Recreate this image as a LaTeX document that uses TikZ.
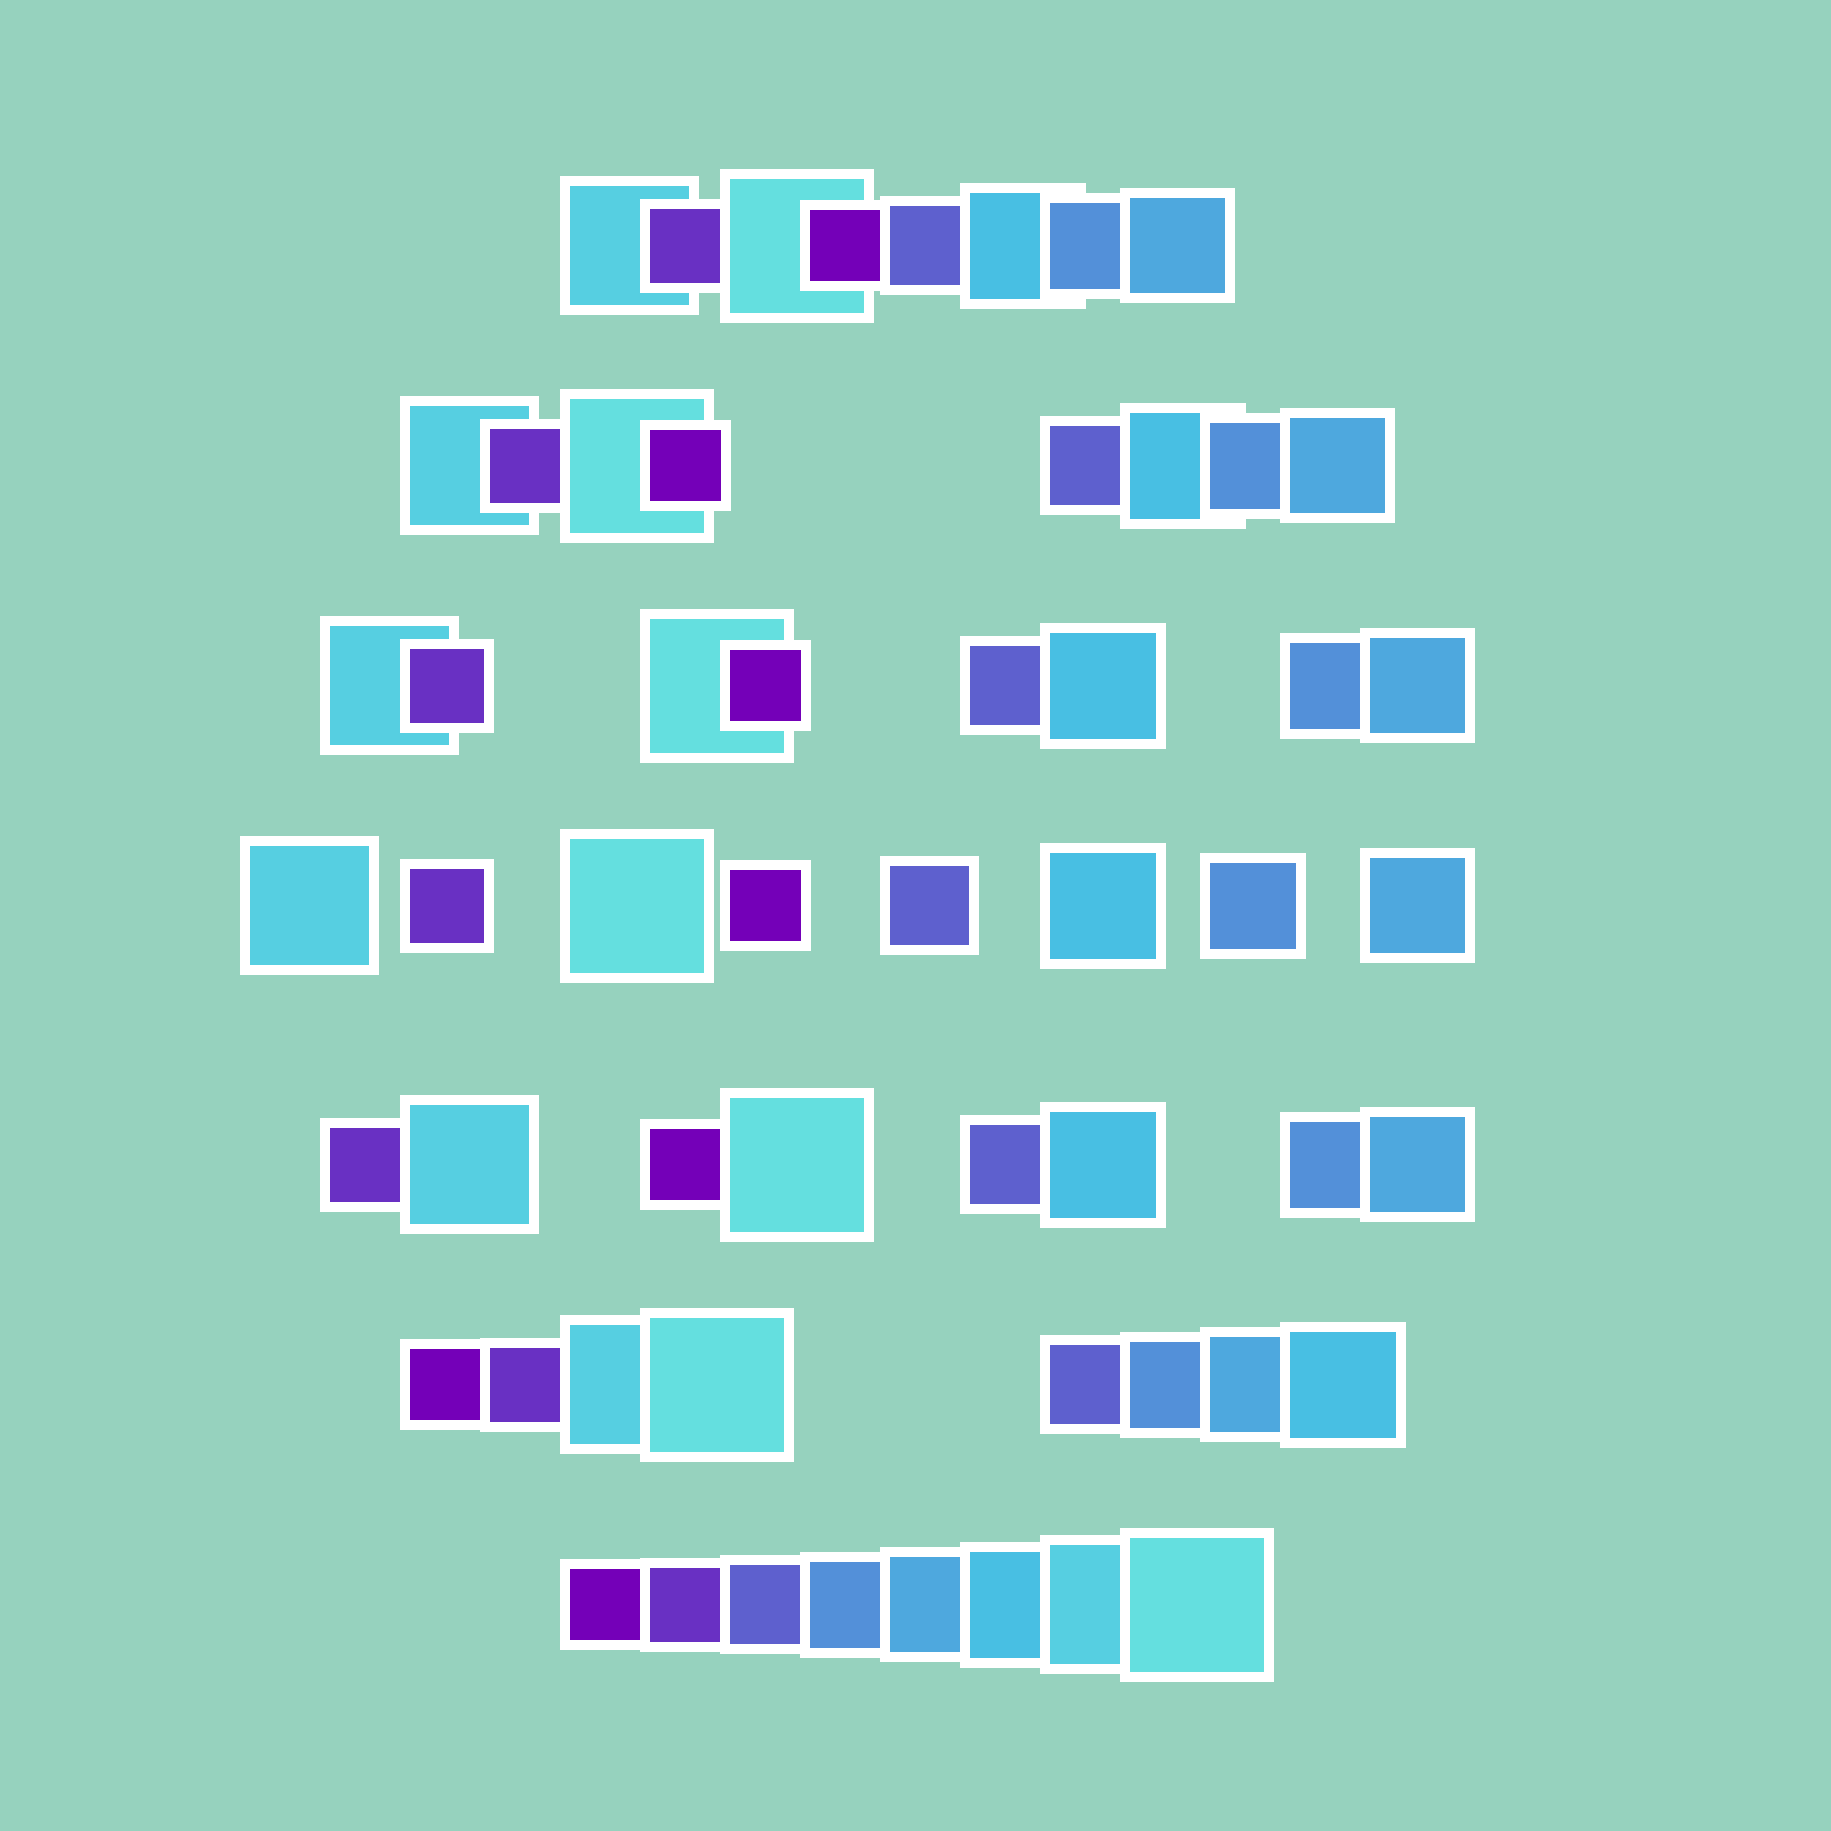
\documentclass[tikz,border=0pt]{standalone}
\definecolor{bg}{HTML}{96D2BE}
\definecolor{cA}{HTML}{56CFE1}
\definecolor{cB}{HTML}{6930C3}
\definecolor{cC}{HTML}{64DFDF}
\definecolor{cD}{HTML}{7400B8}
\definecolor{cE}{HTML}{5E60CE}
\definecolor{cF}{HTML}{48BFE3}
\definecolor{cG}{HTML}{5390D9}
\definecolor{cH}{HTML}{4EA8DE}
\def\szA{139}\def\szB{94}\def\szC{154}\def\szD{91}
\def\szE{99}\def\szF{126}\def\szG{106}\def\szH{115}
\newcommand{\sq}[3]{%
  \pgfmathsetmacro{\sqsz}{\csname sz#3\endcsname}%
  \filldraw[sqbox,fill=c#3] ({#1+5},{#2-\sqsz/2+5}) rectangle ({#1+\sqsz-5},{#2+\sqsz/2-5});}
\tikzset{sqbox/.style={draw=white,line width=10pt,line join=miter}}
\begin{document}
\begin{tikzpicture}[x=1pt,y=-1pt]
\fill[bg] (0,0) rectangle (1831,1831);
\useasboundingbox (0,0) rectangle (1831,1831);
% row 1
\sq{560.3}{245.7}{A}\sq{640.3}{245.7}{B}\sq{720.3}{245.7}{C}\sq{800.3}{245.7}{D}
\sq{880.3}{245.7}{E}\sq{960.3}{245.7}{F}\sq{1040.3}{245.7}{G}\sq{1120.3}{245.7}{H}
% row 2
\sq{400.3}{465.7}{A}\sq{480.3}{465.7}{B}\sq{560.3}{465.7}{C}\sq{640.3}{465.7}{D}
\sq{1040.3}{465.7}{E}\sq{1120.3}{465.7}{F}\sq{1200.3}{465.7}{G}\sq{1280.3}{465.7}{H}
% row 3
\sq{320.3}{685.7}{A}\sq{400.3}{685.7}{B}\sq{640.3}{685.7}{C}\sq{720.3}{685.7}{D}
\sq{960.3}{685.7}{E}\sq{1040.3}{685.7}{F}\sq{1280.3}{685.7}{G}\sq{1360.3}{685.7}{H}
% row 4
\sq{240.3}{905.7}{A}\sq{400.3}{905.7}{B}\sq{560.3}{905.7}{C}\sq{720.3}{905.7}{D}
\sq{880.3}{905.7}{E}\sq{1040.3}{905.7}{F}\sq{1200.3}{905.7}{G}\sq{1360.3}{905.7}{H}
% row 5
\sq{320.3}{1164.8}{B}\sq{400.3}{1164.8}{A}\sq{640.3}{1164.8}{D}\sq{720.3}{1164.8}{C}
\sq{960.3}{1164.8}{E}\sq{1040.3}{1164.8}{F}\sq{1280.3}{1164.8}{G}\sq{1360.3}{1164.8}{H}
% row 6
\sq{400.3}{1384.8}{D}\sq{480.3}{1384.8}{B}\sq{560.3}{1384.8}{A}\sq{640.3}{1384.8}{C}
\sq{1040.3}{1384.8}{E}\sq{1120.3}{1384.8}{G}\sq{1200.3}{1384.8}{H}\sq{1280.3}{1384.8}{F}
% row 7
\sq{560.3}{1604.8}{D}\sq{640.3}{1604.8}{B}\sq{720.3}{1604.8}{E}\sq{800.3}{1604.8}{G}
\sq{880.3}{1604.8}{H}\sq{960.3}{1604.8}{F}\sq{1040.3}{1604.8}{A}\sq{1120.3}{1604.8}{C}
\end{tikzpicture}
\end{document}
